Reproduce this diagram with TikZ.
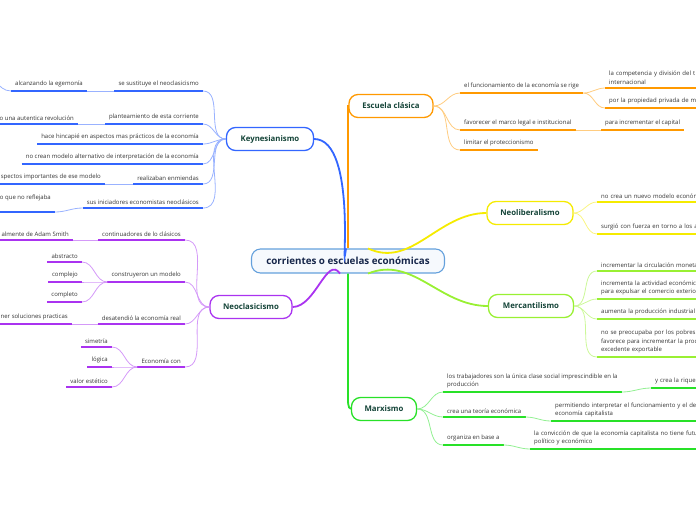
\documentclass[tikz,border=0pt]{standalone}
\usepackage{fontspec}
\setmainfont{Open Sans}
\usetikzlibrary{positioning,calc}
\definecolor{kblue}{RGB}{51,102,255}
\definecolor{npurple}{RGB}{170,51,240}
\definecolor{corange}{RGB}{255,153,0}
\definecolor{lyellow}{RGB}{245,235,0}
\definecolor{mlime}{RGB}{153,240,51}
\definecolor{xgreen}{RGB}{40,225,40}
\definecolor{rootline}{RGB}{100,160,220}
\definecolor{roottxt}{RGB}{22,38,74}
\definecolor{topictxt}{RGB}{20,68,56}
\definecolor{leaftxt}{RGB}{51,51,51}

\begin{document}
\begin{tikzpicture}[x=1pt,y=-1pt,font=\fontsize{6}{8.6}\selectfont,
 root/.style={draw=rootline,line width=1.1pt,rounded corners=9pt,fill=rootline!6,minimum width=193,minimum height=24,text=roottxt,font=\fontsize{9.8}{11}\selectfont\bfseries},
 topic/.style={draw=#1,line width=1.3pt,rounded corners=9pt,fill=white,minimum height=23,text=topictxt,font=\fontsize{7.8}{9}\selectfont\bfseries},
 leaf/.style={inner xsep=4pt,inner ysep=3.5pt,text=leaftxt,align=left,append after command={(\tikzlastnode.south west) edge[line width=1.6pt,#1] (\tikzlastnode.south east)}},
 main/.style={line width=1.8pt,#1},
 br/.style={line width=0.8pt,#1!50}]
\useasboundingbox (0,0) rectangle (696,520); \clip (0,0) rectangle (696,520);

% topics
\node[root] (root) at (348,261) {corrientes o escuelas económicas};
\node[topic=kblue,minimum width=87] (key) at (270,139) {Keynesianismo};
\node[topic=corange,minimum width=84] (esc) at (391,106) {Escuela clásica};
\node[topic=lyellow,minimum width=86] (neo) at (530,213) {Neoliberalismo};
\node[topic=mlime,minimum width=85] (merc) at (531,306) {Mercantilismo};
\node[topic=xgreen,minimum width=65] (marx) at (384,409) {Marxismo};
\node[topic=npurple,minimum width=82] (neoc) at (251,307) {Neoclasicismo};

\draw[main=kblue] ([xshift=-2pt]root.north) to[out=262,in=0] (key.east);
\draw[main=corange] (root.north) -- (root.north |- esc.west) -- (esc.west);
\draw[main=lyellow] ([xshift=20pt]root.north) to[out=335,in=180] (neo.west);
\draw[main=mlime] ([xshift=20pt]root.south) to[out=22,in=180] (merc.west);
\draw[main=npurple] ([xshift=-8pt]root.south) to[out=125,in=0] (neoc.east);
\draw[main=xgreen] (root.south) -- ([yshift=8pt]root.south |- marx.west) to[out=90,in=180] (marx.west);

% Keynesianismo
\node[leaf=kblue,anchor=south east] (k1) at (203,91) {se sustituye el neoclasicismo};
\node[leaf=kblue,anchor=south east] (k1a) at (87,91) {alcanzando la egemonía};
\coordinate (k1b) at (-20,72);
\node[leaf=kblue,anchor=south east] (k2) at (203,124) {planteamiento de esta corriente};
\node[leaf=kblue,anchor=south east] (k2a) at (78,124) {o una autentica revolución};
\node[leaf=kblue,anchor=south east] (k3) at (203,144) {hace hincapié en aspectos mas prácticos de la economía};
\node[leaf=kblue,anchor=south east] (k4) at (203,164) {no crean modelo alternativo de interpretación de la economía};
\node[leaf=kblue,anchor=south east] (k5) at (203,184) {realizaban enmiendas};
\node[leaf=kblue,anchor=south east] (k5a) at (105,184) {spectos importantes de ese modelo};
\node[leaf=kblue,anchor=south east] (k6) at (203,208) {sus iniciadores economistas neoclásicos};
\node[leaf=kblue,anchor=south east] (k6a) at (55,212) {o que no reflejaba\\\mbox{}};
\foreach \c in {k1,k2,k3,k4,k5,k6} \draw[br=kblue] (key.west) to[out=180,in=0] (\c.south east);
\draw[br=kblue] (k1.south west) -- (k1a.south east);
\draw[br=kblue] (k1a.south west) to[out=180,in=0] (k1b);
\draw[br=kblue] (k2.south west) -- (k2a.south east);
\draw[br=kblue] (k5.south west) -- (k5a.south east);
\draw[br=kblue] (k6.south west) to[out=180,in=0] (k6a.south east);

% Neoclasicismo
\node[leaf=npurple,anchor=south east] (n1) at (185,240) {continuadores de lo clásicos};
\node[leaf=npurple,anchor=south east] (n1a) at (73,240) {almente de Adam Smith};
\node[leaf=npurple,anchor=south east] (n2) at (185,282) {construyeron un modelo};
\node[leaf=npurple,anchor=south east] (n2a) at (82,262) {abstracto};
\node[leaf=npurple,anchor=south east] (n2b) at (82,282) {complejo};
\node[leaf=npurple,anchor=south east] (n2c) at (82,302) {completo};
\node[leaf=npurple,anchor=south east] (n3) at (185,324) {desatendió la economía real};
\node[leaf=npurple,anchor=south east] (n3a) at (72,324) {ner soluciones practicas};
\node[leaf=npurple,anchor=south east] (n4) at (185,367) {Economía con};
\node[leaf=npurple,anchor=south east] (n4a) at (112,347) {simetría};
\node[leaf=npurple,anchor=south east] (n4b) at (112,367) {lógica};
\node[leaf=npurple,anchor=south east] (n4c) at (112,387) {valor estético};
\foreach \c in {n1,n2,n3,n4} \draw[br=npurple] (neoc.west) to[out=180,in=0] (\c.south east);
\draw[br=npurple] (n1.south west) -- (n1a.south east);
\foreach \c in {n2a,n2b,n2c} \draw[br=npurple] (n2.south west) to[out=180,in=0] (\c.south east);
\draw[br=npurple] (n3.south west) -- (n3a.south east);
\foreach \c in {n4a,n4b,n4c} \draw[br=npurple] (n4.south west) to[out=180,in=0] (\c.south east);

% Escuela clasica
\node[leaf=corange,anchor=south west] (e1) at (460,93) {el funcionamiento de la economía se rige};
\node[leaf=corange,anchor=south west,text width=140] (e1a) at (605,88) {la competencia  y división del t\\internacional};
\node[leaf=corange,anchor=south west,text width=140] (e1b) at (605,108) {por la propiedad privada de m};
\node[leaf=corange,anchor=south west] (e2) at (460,130) {favorecer el marco legal e institucional};
\node[leaf=corange,anchor=south west] (e2a) at (601,130) {para incrementar el capital};
\node[leaf=corange,anchor=south west] (e3) at (460,150) {limitar el proteccionismo};
\foreach \c in {e1,e2,e3} \draw[br=corange] (esc.east) to[out=0,in=180] (\c.south west);
\foreach \c in {e1a,e1b} \draw[br=corange] (e1.south east) to[out=0,in=180] (\c.south west);
\draw[br=corange] (e2.south east) -- (e2a.south west);

% Neoliberalismo
\node[leaf=lyellow,anchor=south west,text width=140] (y1) at (597,202) {no crea un nuevo modelo económ};
\node[leaf=lyellow,anchor=south west,text width=140] (y2) at (597,234) {surgió con fuerza en torno a los a};
\foreach \c in {y1,y2} \draw[br=lyellow] (neo.east) to[out=0,in=180] (\c.south west);

% Mercantilismo
\node[leaf=mlime,anchor=south west,text width=140] (m1) at (597,271) {incrementar la circulación moneta};
\node[leaf=mlime,anchor=south west,text width=140] (m2) at (597,299) {incrementa la actividad económica\\para expulsar el comercio exterio};
\node[leaf=mlime,anchor=south west,text width=140] (m3) at (597,319) {aumenta la producción industrial y};
\node[leaf=mlime,anchor=south west,text width=140] (m4) at (597,357) {no se preocupaba por los pobres\\favorece para incrementar la produ\\excedente exportable};
\foreach \c in {m1,m2,m3,m4} \draw[br=mlime] (merc.east) to[out=0,in=180] (\c.south west);

% Marxismo
\node[leaf=xgreen,anchor=south west] (x1) at (443,392) {los trabajadores son la única clase social imprescindible en la\\producción};
\node[leaf=xgreen,anchor=south west,text width=140] (x1a) at (651,388) {y crea la rique};
\node[leaf=xgreen,anchor=south west] (x2) at (443,417) {crea una teoría económica};
\node[leaf=xgreen,anchor=south west,text width=180] (x2a) at (551,421) {permitiendo interpretar el funcionamiento y el desa\\economía capitalista};
\node[leaf=xgreen,anchor=south west] (x3) at (443,445) {organiza en base a};
\node[leaf=xgreen,anchor=south west,text width=200] (x3a) at (530,449) {la convicción de que la economía capitalista no tiene futuro\\político y económico};
\foreach \c in {x1,x2,x3} \draw[br=xgreen] (marx.east) to[out=0,in=180] (\c.south west);
\draw[br=xgreen] (x1.south east) to[out=0,in=180] (x1a.south west);
\draw[br=xgreen] (x2.south east) to[out=0,in=180] (x2a.south west);
\draw[br=xgreen] (x3.south east) to[out=0,in=180] (x3a.south west);
\end{tikzpicture}
\end{document}
